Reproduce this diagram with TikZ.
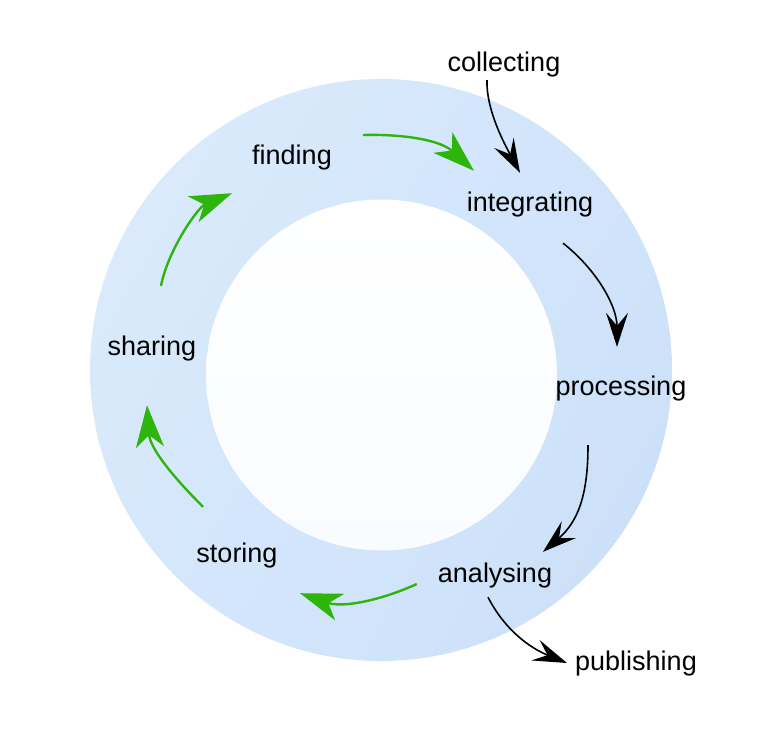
\documentclass[tikz,border=0pt]{standalone}
\usepackage{fontspec}
\setmainfont{Liberation Sans}
\usetikzlibrary{arrows.meta}
\definecolor{ringA}{RGB}{218,234,252}
\definecolor{ringB}{RGB}{204,225,249}
\definecolor{innerA}{RGB}{255,255,255}
\definecolor{innerB}{RGB}{249,252,255}
\definecolor{grn}{RGB}{46,181,12}
\begin{document}
\begin{tikzpicture}[x=1pt,y=-1pt,
  lbl/.style={font=\fontsize{27}{32}\selectfont, inner sep=0pt, text height=20pt, text depth=6pt},
  blk/.style={draw=black, line width=1.6pt, -{Stealth[length=34pt,width=22pt,inset=13pt]}},
  grnarrow/.style={draw=grn, line width=2.4pt, -{Stealth[length=42pt,width=28pt,inset=12pt]}}]
\fill[white] (0,0) rectangle (762,745);
\useasboundingbox (0,0) rectangle (762,745);
% ring
\shade[left color=ringA, right color=ringB, shading angle=60] (381,370) circle[radius=291];
\shade[top color=innerA, bottom color=innerB] (381.5,375) circle[radius=175.5];
% labels
\node[lbl] (collecting) at (504,64) {collecting};
\node[lbl] (finding) at (292,157) {finding};
\node[lbl] (integrating) at (530,204) {integrating};
\node[lbl] (sharing) at (152,348) {sharing};
\node[lbl] (processing) at (621,388) {processing};
\node[lbl] (storing) at (237,555) {storing};
\node[lbl] (analysing) at (495,575) {analysing};
\node[lbl] (publishing) at (636,663) {publishing};
% black arrows
\draw[blk] ([shift={(-17,3)}]collecting.south) .. controls +(-1,30) and +(-15,-28) .. ([shift={(-10,-18)}]integrating.north);
\draw[blk] ([shift={(33,26)}]integrating.south) .. controls +(32,25) and +(0,-42) .. ([shift={(-4,-28)}]processing.north);
\draw[blk] ([shift={(-33,44)}]processing.south) .. controls +(0,50) and +(35,-30) .. ([shift={(48,-10)}]analysing.north);
\draw[blk] ([shift={(-7,9)}]analysing.south) .. controls +(17,33) and +(-37,-15) .. ([shift={(-8,0)}]publishing.west);
% green arrows
\draw[grnarrow] ([shift={(31,-22)}]finding.east) .. controls +(40,-1) and +(-34,-31) .. ([shift={(-56,-20)}]integrating.north);
\draw[grnarrow] ([shift={(-21,9)}]analysing.west) .. controls +(-35,16) and +(43,15) .. ([shift={(63,25)}]storing.south);
\draw[grnarrow] ([shift={(-34,-35)}]storing.north) .. controls +(-31,-31) and +(3,43) .. ([shift={(-5,44)}]sharing.south);
\draw[grnarrow] ([shift={(9,-49)}]sharing.north) .. controls +(7,-36) and +(-34,14) .. ([shift={(-20,23)}]finding.south west);
\end{tikzpicture}
\end{document}
